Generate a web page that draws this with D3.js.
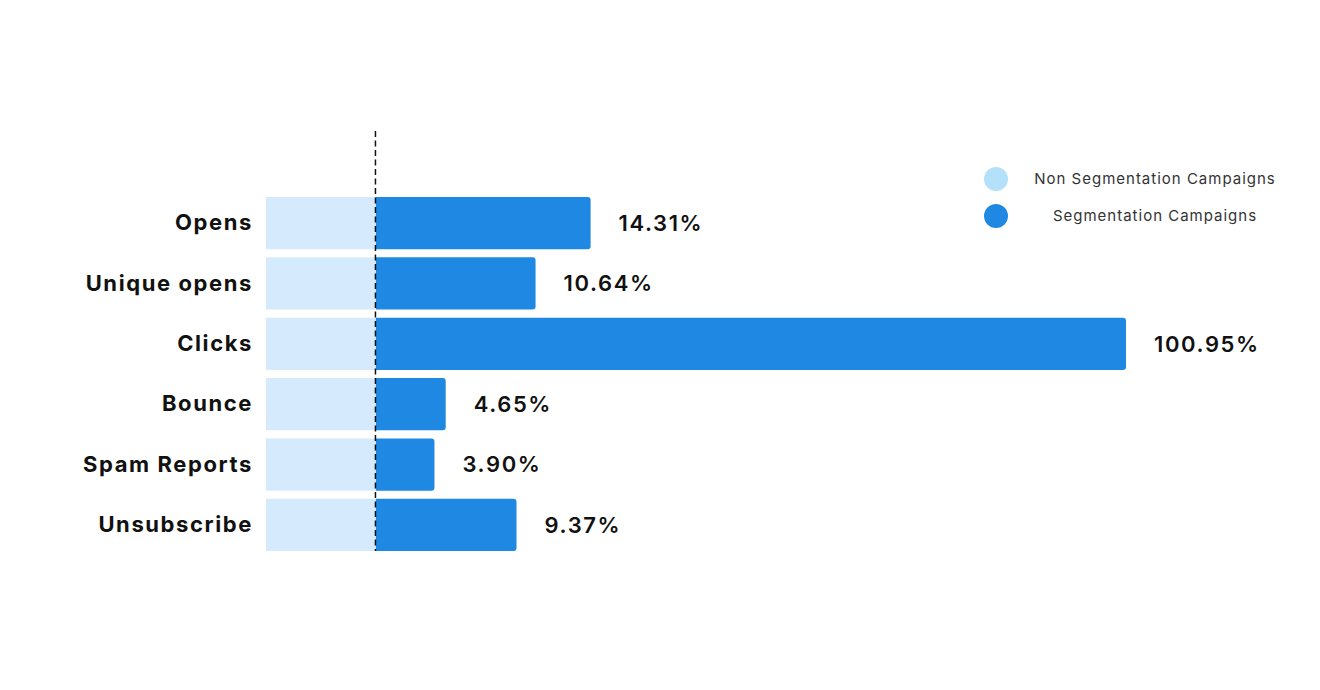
<!DOCTYPE html>
<html>
<head>
<meta charset="utf-8">
<script src="https://cdn.jsdelivr.net/npm/d3@7"></script>
<style>
html,body{margin:0;padding:0;background:#fff;}
svg{display:block;font-family:Inter, "Noto Sans", sans-serif;}
</style>
</head>
<body>
<svg id="chart" width="1320" height="690"></svg>
<script>
const categories = ["Opens", "Unique opens", "Clicks", "Bounce", "Spam Reports", "Unsubscribe"];
const segValues = [14.31, 10.64, 100.95, 4.65, 3.90, 9.37];
const nonSegValues = [7.33, 7.33, 7.33, 7.33, 7.33, 7.33];
const seriesNames = ["Non Segmentation Campaigns", "Segmentation Campaigns"];
const axisMax = 50;

const colors = {nonSeg: "#d5eafc", seg: "#1f88e3", legendNonSeg: "#b3e1f9", legendSeg: "#1f88e3"};

const svg = d3.select("#chart");

const x = d3.scaleLinear().domain([-7.33, axisMax]).range([266, 1126]).clamp(true);
const y = d3.scaleBand().domain(categories).range([197, 551]).paddingInner(0.135).paddingOuter(0);

const data = categories.map((c, i) => ({cat: c, seg: segValues[i], non: nonSegValues[i]}));

// non segmentation bars
svg.append("g").selectAll("rect").data(data).join("rect")
  .attr("x", d => x(-d.non))
  .attr("y", d => y(d.cat))
  .attr("width", d => x(0) - x(-d.non))
  .attr("height", y.bandwidth())
  .attr("fill", colors.nonSeg);

// segmentation bars with rounded right corners
const r = 3;
svg.append("g").selectAll("path").data(data).join("path")
  .attr("d", d => {
    const x0 = x(0), x1 = x(d.seg), y0 = y(d.cat), h = y.bandwidth();
    return `M${x0},${y0}H${x1 - r}Q${x1},${y0} ${x1},${y0 + r}V${y0 + h - r}Q${x1},${y0 + h} ${x1 - r},${y0 + h}H${x0}Z`;
  })
  .attr("fill", colors.seg);

// dashed zero line
svg.append("line")
  .attr("x1", x(0) - 0.5).attr("x2", x(0) - 0.5)
  .attr("y1", 131).attr("y2", 551)
  .attr("stroke", "#111").attr("stroke-width", 1.5)
  .attr("stroke-dasharray", "6,3.5");

// category labels
const yAxis = d3.axisLeft(y).tickSize(0).tickPadding(13);
const ga = svg.append("g").attr("transform", `translate(${x(-7.33)},0)`).call(yAxis);
ga.select(".domain").remove();
ga.selectAll("text")
  .attr("font-family", "Inter, sans-serif")
  .attr("font-size", 22)
  .attr("font-weight", 700)
  .attr("letter-spacing", "1.6px")
  .attr("fill", "#111");

// value labels
svg.append("g").selectAll("text").data(data).join("text")
  .attr("x", d => x(d.seg) + 28)
  .attr("y", d => y(d.cat) + y.bandwidth() / 2)
  .attr("dy", "0.35em")
  .attr("font-size", 22)
  .attr("font-weight", 600)
  .attr("letter-spacing", "1.6px")
  .attr("fill", "#111")
  .text(d => d.seg.toFixed(2) + "%");

// legend
const legend = svg.append("g");
const legendColors = [colors.legendNonSeg, colors.legendSeg];
seriesNames.forEach((name, i) => {
  const cy = 179 + i * 37;
  legend.append("circle").attr("cx", 996).attr("cy", cy).attr("r", 12).attr("fill", legendColors[i]);
  legend.append("text")
    .attr("x", 1155).attr("y", cy)
    .attr("dy", "0.35em")
    .attr("text-anchor", "middle")
    .attr("font-size", 15)
    .attr("font-weight", 400)
    .attr("letter-spacing", "1px")
    .attr("fill", "#333")
    .text(name);
});
</script>
</body>
</html>
